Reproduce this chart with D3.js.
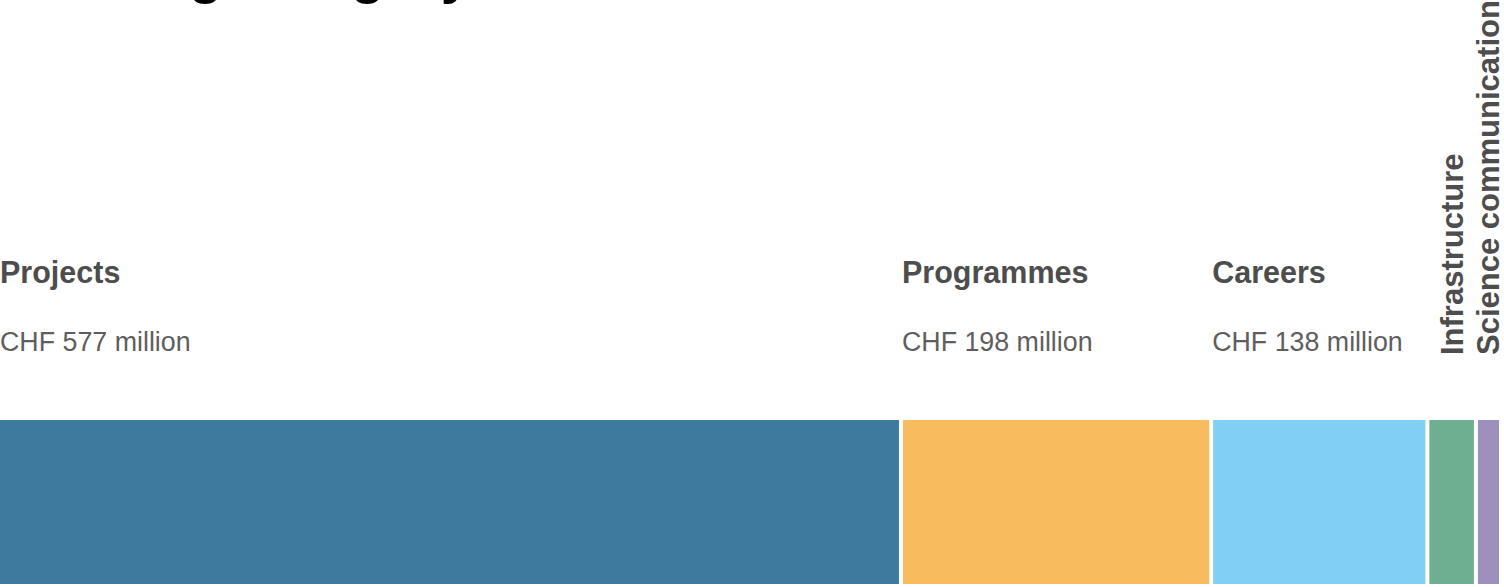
<!DOCTYPE html>
<html>
<head>
<meta charset="utf-8">
<script src="https://cdn.jsdelivr.net/npm/d3@7"></script>
<style>
  html, body { margin: 0; padding: 0; background: #fff; overflow: hidden; }
  svg { display: block; }
</style>
</head>
<body>
<svg id="chart" width="1504" height="587"></svg>
<script>
const titleText = "Funding category";
const categories = ["Projects", "Programmes", "Careers", "Infrastructure", "Science communication"];
const values = [577, 198, 138, 31, 16];
const valueLabels = ["CHF 577 million", "CHF 198 million", "CHF 138 million", "", ""];
const rotated = [false, false, false, true, true];
const colors = ["#3d7a9e", "#f8bc5f", "#82cff4", "#6daf8e", "#9d90bd"];

const W = 1504, H = 587;
const svg = d3.select("#chart");

const total = d3.sum(values);
const starts = values.map((v, i) => d3.sum(values.slice(0, i)));
const data = categories.map((c, i) => ({
  cat: c, value: values[i], start: starts[i], label: valueLabels[i], rot: rotated[i], color: colors[i]
}));

const x = d3.scaleLinear().domain([0, total]).range([-3, 1501]);
const y = d3.scaleLinear().domain([0, 1]).range([584, 420]);
const gap = 2;

// Title (mostly cut off at top, as in the reference)
svg.append("text")
  .attr("x", 2).attr("y", -8)
  .attr("font-family", "Liberation Sans, Arial, sans-serif")
  .attr("font-weight", "bold")
  .attr("font-size", 56)
  .attr("fill", "#000")
  .text(titleText);

// Bars
svg.selectAll("rect.bar").data(data).enter().append("rect")
  .attr("class", "bar")
  .attr("x", d => x(d.start) + gap)
  .attr("width", d => x(d.start + d.value) - x(d.start) - 2 * gap)
  .attr("y", y(1))
  .attr("height", y(0) - y(1))
  .attr("fill", d => d.color);

// Horizontal labels
const hor = data.filter(d => !d.rot);
svg.selectAll("text.cat").data(hor).enter().append("text")
  .attr("class", "cat")
  .attr("x", d => Math.max(0, x(d.start) + 1))
  .attr("y", 283)
  .attr("font-family", "Liberation Sans, Arial, sans-serif")
  .attr("font-weight", "bold")
  .attr("font-size", 30.5)
  .attr("fill", "#4d4d4d")
  .text(d => d.cat);

svg.selectAll("text.val").data(hor).enter().append("text")
  .attr("class", "val")
  .attr("x", d => Math.max(0, x(d.start) + 1))
  .attr("y", 351)
  .attr("font-family", "Liberation Sans, Arial, sans-serif")
  .attr("font-size", 26.8)
  .attr("fill", "#5e5e5e")
  .text(d => d.label);

// Rotated labels for narrow bars
const rot = data.filter(d => d.rot);
svg.selectAll("text.rot").data(rot).enter().append("text")
  .attr("class", "rot")
  .attr("transform", d => {
    const cx = (x(d.start) + x(d.start + d.value)) / 2;
    return `translate(${cx + 11},355) rotate(-90)`;
  })
  .attr("font-family", "Liberation Sans, Arial, sans-serif")
  .attr("font-weight", "bold")
  .attr("font-size", 31)
  .attr("fill", "#4d4d4d")
  .text(d => d.cat);
</script>
</body>
</html>
